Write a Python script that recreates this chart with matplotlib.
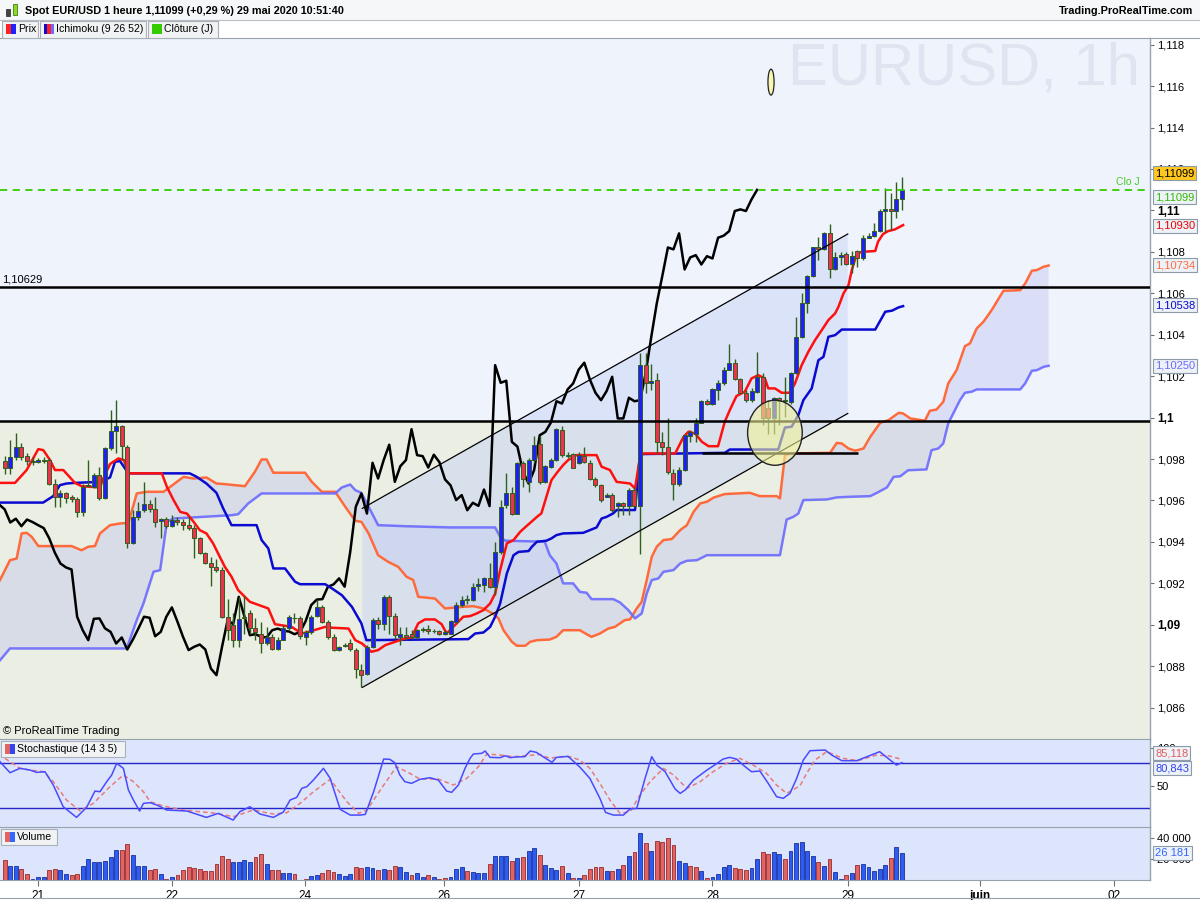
import numpy as np
import matplotlib
matplotlib.use("Agg")
import matplotlib.pyplot as plt
from matplotlib.patches import Rectangle, Ellipse, Polygon
from matplotlib.transforms import blended_transform_factory as btf

plt.rcParams['font.family'] = ['Liberation Sans', 'DejaVu Sans']

# ---------------- DATA ----------------
opens = [
1.09792,1.09759,1.09808,1.09856,1.09814,1.09787,1.09785,1.09793,1.09795,1.09682,
1.09615,1.09634,1.09615,1.09605,1.09545,1.09669,1.09666,1.09722,1.09610,1.09851,
1.09936,1.09959,1.09859,1.09393,1.09518,1.09553,1.09581,1.09558,1.09500,1.09512,
1.09476,1.09508,1.09494,1.09481,1.09465,1.09417,1.09348,1.09296,1.09277,1.09267,
1.09039,1.08998,1.08926,1.09039,1.09055,1.08983,1.08958,1.08910,1.08939,1.08881,
1.08929,1.08983,1.09031,1.09034,1.08939,1.08966,1.09042,1.09084,1.09015,1.08942,
1.08878,1.08897,1.08910,1.08878,1.08784,1.08762,1.08894,1.09023,1.09003,1.09135,
1.09042,1.08942,1.08949,1.08955,1.08939,1.08974,1.08982,1.08971,1.08968,1.08955,
1.08958,1.09015,1.09095,1.09119,1.09119,1.09188,1.09192,1.09224,1.09184,1.09352,
1.09578,1.09634,1.09537,1.09782,1.09690,1.09795,1.09872,1.09690,1.09763,1.09795,
1.09940,1.09819,1.09824,1.09779,1.09817,1.09782,1.09702,1.09673,1.09618,1.09626,
1.09573,1.09589,1.09573,1.09653,1.09573,1.10253,1.10165,1.10181,1.09883,1.09860,
1.09734,1.09682,1.09747,1.09912,1.09923,1.09976,1.10079,1.10068,1.10133,1.10165,
1.10232,1.10265,1.10184,1.10117,1.10084,1.10125,1.10197,1.10044,1.09996,1.10096,
1.10079,1.10076,1.10213,1.10387,1.10551,1.10684,1.10821,1.10812,1.10889,1.10715,
1.10773,1.10792,1.10739,1.10805,1.10768,1.10868,1.10878,1.10900,1.10997,1.11005,
1.10998,1.11053]
highs = [
1.09814,1.09891,1.09924,1.09879,1.09827,1.09811,1.09803,1.09811,1.09803,1.09706,
1.09650,1.09642,1.09626,1.09618,1.09682,1.09795,1.09734,1.09763,1.09859,1.10036,
1.10084,1.09964,1.09867,1.09553,1.09594,1.09690,1.09602,1.09615,1.09516,1.09521,
1.09529,1.09521,1.09513,1.09518,1.09481,1.09425,1.09352,1.09328,1.09320,1.09280,
1.09127,1.09055,1.09135,1.09138,1.09071,1.09031,1.09015,1.08990,1.08958,1.08942,
1.08999,1.09047,1.09055,1.09045,1.08974,1.09047,1.09119,1.09095,1.09023,1.08958,
1.08897,1.08910,1.08934,1.08886,1.08813,1.08902,1.09031,1.09039,1.09143,1.09143,
1.09055,1.08990,1.08990,1.08974,1.08982,1.08990,1.08999,1.08978,1.08974,1.08974,
1.09023,1.09111,1.09138,1.09142,1.09200,1.09224,1.09229,1.09296,1.09401,1.09602,
1.09731,1.09666,1.09787,1.09792,1.09803,1.09911,1.09911,1.09771,1.09803,1.09952,
1.09959,1.09835,1.09830,1.09835,1.09859,1.09795,1.09714,1.09679,1.09634,1.09634,
1.09594,1.09594,1.09658,1.09666,1.10310,1.10310,1.10261,1.10216,1.09930,1.10000,
1.09750,1.09760,1.09923,1.09939,1.09996,1.10084,1.10088,1.10141,1.10181,1.10245,
1.10355,1.10285,1.10189,1.10133,1.10141,1.10318,1.10213,1.10084,1.10100,1.10100,
1.10197,1.10221,1.10487,1.10599,1.10688,1.10824,1.10873,1.10897,1.10932,1.10800,
1.10800,1.10800,1.10805,1.10808,1.10881,1.10889,1.10937,1.11005,1.11106,1.11082,
1.11138,1.11162]
lows = [
1.09730,1.09730,1.09795,1.09795,1.09771,1.09771,1.09779,1.09779,1.09674,1.09570,
1.09570,1.09586,1.09594,1.09521,1.09525,1.09663,1.09658,1.09602,1.09605,1.09843,
1.09827,1.09795,1.09373,1.09389,1.09505,1.09545,1.09545,1.09473,1.09417,1.09465,
1.09470,1.09481,1.09460,1.09457,1.09324,1.09341,1.09293,1.09187,1.09256,1.09035,
1.08926,1.08894,1.08894,1.08958,1.08958,1.08926,1.08862,1.08902,1.08878,1.08878,
1.08926,1.08974,1.09007,1.08930,1.08902,1.08958,1.09039,1.09007,1.08934,1.08875,
1.08875,1.08891,1.08875,1.08741,1.08701,1.08757,1.08886,1.08982,1.08974,1.08958,
1.08934,1.08902,1.08926,1.08934,1.08934,1.08966,1.08958,1.08961,1.08950,1.08950,
1.08955,1.09007,1.09084,1.09100,1.09116,1.09164,1.09159,1.09180,1.09143,1.09344,
1.09566,1.09529,1.09534,1.09666,1.09642,1.09782,1.09682,1.09685,1.09759,1.09792,
1.09811,1.09803,1.09755,1.09776,1.09779,1.09698,1.09666,1.09594,1.09615,1.09545,
1.09521,1.09529,1.09529,1.09570,1.09341,1.10117,1.10133,1.09827,1.09820,1.09730,
1.09602,1.09670,1.09740,1.09883,1.09883,1.09972,1.10063,1.10060,1.10084,1.10157,
1.10229,1.10181,1.10117,1.10076,1.10076,1.10120,1.09964,1.09923,1.09923,1.09964,
1.10004,1.10068,1.10210,1.10382,1.10503,1.10680,1.10760,1.10808,1.10672,1.10712,
1.10736,1.10736,1.10696,1.10728,1.10760,1.10865,1.10873,1.10895,1.10897,1.10905,
1.10961,1.11001]
closes = [
1.09759,1.09808,1.09856,1.09811,1.09790,1.09793,1.09795,1.09796,1.09682,1.09615,
1.09634,1.09610,1.09608,1.09545,1.09666,1.09677,1.09721,1.09610,1.09851,1.09936,
1.09959,1.09862,1.09393,1.09518,1.09550,1.09581,1.09557,1.09494,1.09512,1.09476,
1.09508,1.09496,1.09481,1.09467,1.09417,1.09348,1.09296,1.09277,1.09267,1.09039,
1.08974,1.08926,1.09029,1.09031,1.08983,1.08966,1.08910,1.08939,1.08881,1.08929,
1.08983,1.09039,1.09034,1.08945,1.08966,1.09039,1.09084,1.09015,1.08942,1.08878,
1.08894,1.08905,1.08881,1.08789,1.08757,1.08894,1.09023,1.09003,1.09135,1.09042,
1.08950,1.08955,1.08942,1.08939,1.08974,1.08982,1.08971,1.08968,1.08955,1.08965,
1.09018,1.09095,1.09122,1.09124,1.09184,1.09195,1.09224,1.09184,1.09352,1.09570,
1.09634,1.09537,1.09782,1.09706,1.09795,1.09869,1.09690,1.09766,1.09795,1.09944,
1.09819,1.09814,1.09759,1.09821,1.09785,1.09702,1.09673,1.09602,1.09626,1.09553,
1.09589,1.09574,1.09653,1.09573,1.10253,1.10168,1.10178,1.09883,1.09860,1.09739,
1.09682,1.09747,1.09915,1.09931,1.09976,1.10079,1.10068,1.10136,1.10165,1.10232,
1.10265,1.10184,1.10120,1.10084,1.10128,1.10197,1.09996,1.09996,1.10096,1.10079,
1.10084,1.10213,1.10387,1.10551,1.10684,1.10821,1.10812,1.10889,1.10715,1.10773,
1.10784,1.10739,1.10779,1.10768,1.10868,1.10878,1.10900,1.10997,1.11005,1.10997,
1.11053,1.11099]

volumes = [
19000,13600,13300,10200,5400,600,2900,2900,9200,10500,
9200,5400,4800,5400,13300,20000,16800,17500,17800,21900,
28200,28200,34000,23500,13300,13300,9500,10200,5400,600,
2900,4800,9200,12400,11700,10200,8600,8900,15200,22500,
19700,16800,16800,18700,16800,21600,24400,15200,9200,9200,
6700,7000,5400,300,600,3800,4400,6300,9200,7900,
5400,3800,5400,12400,11700,12400,11400,9200,10200,9200,
13300,12700,7600,4800,6300,2900,4400,2500,1000,1600,
3200,10200,12100,8600,7600,6700,6700,14900,22500,22500,
22500,18100,20600,21600,27300,30100,23500,14000,11100,9200,
13000,6300,1600,2200,4800,10200,12700,12700,8300,8300,
10200,14000,22500,26300,44400,34900,27300,36800,35900,39700,
33000,17800,15900,13000,12100,8300,1600,2500,5400,12100,
14000,11100,10200,9200,11100,19700,26300,24400,26300,24400,
19700,27300,34900,35900,27600,22800,16800,13300,20000,7300,
600,4400,6700,14000,15200,12400,8600,10200,14000,20900,
31400,26181]
volume_up = [
0,1,1,0,0,1,1,1,0,0, 1,1,0,0,1,1,1,1,1,1, 1,0,0,1,1,1,0,0,1,0,
1,0,0,0,0,0,0,0,0,0, 0,1,1,1,1,0,0,1,0,0, 1,1,0,0,0,1,1,0,0,0,
1,1,1,0,0,1,1,0,1,0, 0,1,1,0,1,1,0,1,0,0, 1,1,1,0,1,1,1,0,1,1,
1,0,1,0,1,1,0,1,1,1, 0,1,0,1,0,0,0,0,1,0, 1,0,1,0,1,0,1,0,0,0,
0,1,1,0,0,1,0,1,1,1, 1,0,0,0,1,1,0,0,1,1, 0,1,1,1,1,1,0,1,0,1,
1,0,1,0,1,1,1,1,1,0, 1,1]

tenkan_idx = [-0.84,1.85,3.94,6.03,6.93,8.13,9.02,10.52,12.61,13.81,17.1,17.7,18.9,20.4,21.4,22.2,28.2,29.1,30.3,31.5,32.7,33.9,35.0,36.2,37.4,38.6,
 39.5,40.7,41.9,44.0,47.3,48.5,51.5,53.3,54.5,57.5,58.7,61.7,62.9,64.1,65.8,67.0,68.3,71.8,73.0,74.2,75.4,77.2,78.4,79.3,
 81.1,82.3,83.5,84.7,85.9,87.1,88.0,88.9,90.1,91.3,92.5,93.6,94.5,95.5,96.3,97.2,98.1,99.0,100.2,
 101.1,102.6,106.2,107.1,108.6,109.8,112.2,113.1,114.0,114.6,
 120.3,121.8,122.7,123.9,125.1,126.3,128.0,129.2,130.1,131.3,132.8,134.0,135.2,136.4,137.0,138.2,139.4,140.9,141.8,143.0,144.2,145.4,146.6,147.8,149.0,149.6,150.5,151.4,152.0,152.9,153.8,156.2,156.7,157.6,158.5,159.7,161.2]
tenkan_val = [1.09685,1.09685,1.09747,1.09848,1.09843,1.09795,1.09747,1.09747,1.09685,1.09669,1.09663,1.09706,1.09776,1.09803,1.09795,1.09731,1.09731,1.09666,1.09602,1.09545,1.09537,1.09497,1.09457,1.09441,1.09393,1.09328,
 1.09280,1.09232,1.09167,1.09111,1.09079,1.09003,1.08990,1.08958,1.08966,1.08990,1.08986,1.08982,1.08926,1.08910,1.08870,1.08878,1.08902,1.08934,1.08939,1.09007,1.09026,1.09026,1.09003,1.08958,
 1.09007,1.09039,1.09042,1.09055,1.09071,1.09103,1.09151,1.09264,1.09393,1.09409,1.09449,1.09476,1.09497,1.09521,1.09538,1.09618,1.09698,1.09731,1.09771,
 1.09795,1.09819,1.09819,1.09763,1.09747,1.09690,1.09682,1.09658,1.09811,1.09827,
 1.09827,1.09907,1.09932,1.09923,1.09883,1.09862,1.09862,1.09980,1.10036,1.10104,1.10125,1.10189,1.10205,1.10189,1.10141,1.10141,1.10120,1.10120,1.10165,1.10253,1.10318,1.10374,1.10422,1.10471,1.10503,1.10535,1.10599,1.10639,1.10712,1.10792,1.10800,1.10804,1.10849,1.10886,1.10900,1.10908,1.10929]

kijun_idx = [-0.84,6.9,8.7,9.9,11.1,12.6,17.1,18.9,19.8,20.7,22.2,33.2,34.4,36.2,38.0,39.2,
 40.7,45.2,46.1,47.3,48.2,50.3,52.1,53.0,57.5,58.7,60.5,62.3,64.0,64.9,
 83.2,84.4,85.9,87.1,88.0,88.9,90.1,91.3,92.2,94.0,94.6,95.5,97.2,98.1,99.0,100.2,103.8,105.0,106.2,107.1,108.0,109.2,109.8,113.1,
 114.0,129.2,130.1,138.8,140.0,141.2,142.4,143.3,144.8,146.0,146.9,147.8,149.0,150.2,156.2,158.0,159.2,160.4,161.2]
kijun_val = [1.09590,1.09590,1.09621,1.09674,1.09682,1.09685,1.09690,1.09711,1.09787,1.09790,1.09731,1.09731,1.09715,1.09682,1.09637,1.09562,
 1.09481,1.09481,1.09409,1.09369,1.09272,1.09272,1.09208,1.09196,1.09196,1.09176,1.09143,1.09087,1.09007,1.08926,
 1.08931,1.08958,1.08963,1.08990,1.09039,1.09103,1.09248,1.09336,1.09352,1.09356,1.09377,1.09401,1.09406,1.09417,1.09433,1.09441,1.09444,1.09457,1.09470,1.09513,1.09521,1.09538,1.09554,1.09554,
 1.09824,1.09830,1.09846,1.09846,1.09952,1.09956,1.10012,1.10084,1.10141,1.10277,1.10293,1.10390,1.10398,1.10425,1.10425,1.10511,1.10516,1.10532,1.10538]

senkou_a_idx = [-0.84,0.95,2.15,3.04,3.94,4.84,6.04,12.0,13.8,15.0,16.2,17.1,18.9,20.7,22.2,23.7,25.5,28.5,29.7,32.1,33.9,36.2,38.0,
 39.5,43.1,44.9,46.1,47.0,48.2,53.9,55.1,56.9,59.3,61.1,62.9,64.0,65.3,67.0,68.8,70.6,72.1,73.3,74.2,77.2,79.0,
 82.3,84.1,85.9,87.7,88.6,89.5,91.0,91.9,93.4,94.3,95.5,97.8,99.0,100.2,103.2,104.4,105.3,106.8,108.3,109.5,110.4,111.3,112.2,113.4,114.3,115.2,116.1,117.0,118.2,119.7,
 121.2,122.4,123.6,124.8,126.0,127.2,129.2,133.7,135.5,138.5,139.1,140.0,141.0,148.1,149.3,150.2,151.4,152.6,154.1,155.3,157.1,158.6,160.4,161.2,162.5,165.1,166.0,167.2,168.4,169.3,170.8,172.3,173.2,174.4,175.6,177.1,178.0,179.2,182.2,183.1,184.3,185.2,186.4,187.3]
senkou_a_val = [1.09216,1.09312,1.09320,1.09441,1.09444,1.09425,1.09380,1.09380,1.09360,1.09377,1.09380,1.09441,1.09481,1.09489,1.09492,1.09634,1.09642,1.09642,1.09666,1.09714,1.09706,1.09711,1.09682,
 1.09679,1.09669,1.09739,1.09798,1.09798,1.09734,1.09734,1.09690,1.09642,1.09642,1.09570,1.09502,1.09497,1.09441,1.09336,1.09304,1.09280,1.09232,1.09216,1.09135,1.09127,1.09079,
 1.09087,1.09090,1.09079,1.09052,1.09031,1.08974,1.08918,1.08899,1.08899,1.08918,1.08926,1.08929,1.08942,1.08974,1.08974,1.08955,1.08942,1.08958,1.08982,1.08990,1.09007,1.09023,1.09026,1.09079,1.09111,1.09216,1.09328,1.09377,1.09409,1.09414,
 1.09457,1.09481,1.09545,1.09586,1.09594,1.09614,1.09631,1.09637,1.09621,1.09621,1.09610,1.09819,1.09827,1.09830,1.09878,1.09875,1.09851,1.09840,1.09851,1.09907,1.09975,1.09988,1.10023,1.10020,1.09996,1.09985,1.10033,1.10039,1.10076,1.10165,1.10229,1.10345,1.10358,1.10430,1.10462,1.10519,1.10559,1.10612,1.10615,1.10647,1.10709,1.10712,1.10728,1.10734]

senkou_b_idx = [-0.84,0.95,21.9,23.7,24.9,26.7,27.9,29.1,30.3,
 40.7,41.9,43.7,46.1,59.3,60.5,62.0,62.9,64.0,65.3,67.0,71.8,
 79.9,88.0,88.9,89.8,96.9,97.8,99.0,100.2,102.0,103.2,104.4,105.3,109.2,110.4,111.9,113.1,114.3,115.2,116.1,117.3,118.2,120.0,
 121.2,122.4,124.2,126.0,139.1,140.3,141.5,142.4,143.3,147.5,149.3,151.7,155.3,156.5,158.3,159.5,160.7,162.1,165.4,166.3,167.5,168.4,169.3,170.2,171.4,172.3,173.5,174.4,182.2,183.1,184.3,185.2,186.4,187.3]
senkou_b_val = [1.08829,1.08886,1.08886,1.09023,1.09103,1.09256,1.09264,1.09497,1.09513,
 1.09529,1.09534,1.09586,1.09634,1.09634,1.09663,1.09677,1.09650,1.09637,1.09570,1.09481,1.09476,
 1.09470,1.09470,1.09425,1.09406,1.09401,1.09336,1.09296,1.09200,1.09200,1.09159,1.09155,1.09124,1.09124,1.09108,1.09071,1.09031,1.09055,1.09151,1.09216,1.09224,1.09256,1.09264,
 1.09296,1.09309,1.09312,1.09336,1.09336,1.09508,1.09521,1.09537,1.09602,1.09605,1.09615,1.09618,1.09621,1.09637,1.09663,1.09714,1.09717,1.09746,1.09750,1.09843,1.09851,1.09875,1.09972,1.10020,1.10084,1.10120,1.10125,1.10136,1.10136,1.10165,1.10226,1.10229,1.10245,1.10250]

stoch_k_idx = [-0.84,0.95,2.75,4.54,5.74,7.23,8.73,10.5,12.9,14.7,16.2,17.1,18.3,19.2,20.1,21.3,22.2,23.1,24.2,24.9,26.1,27.3,29.1,32.7,36.2,38.3,41.0,42.2,44.0,45.8,48.2,50.0,51.2,52.4,53.3,54.2,55.4,57.2,58.4,60.2,62.0,63.8,64.7,66.2,68.0,69.1,70.0,
 70.9,71.8,73.0,74.5,76.3,77.8,79.3,80.2,81.4,82.6,83.5,84.1,85.6,86.2,87.1,88.9,89.8,90.7,91.6,93.3,94.3,95.4,96.6,98.2,99.0,101.1,102.0,103.2,105.0,106.8,107.8,109.2,111.0,112.2,113.4,114.9,116.1,117.0,118.5,120.3,121.2,122.1,123.6,126.0,127.4,128.9,130.1,131.3,132.5,134.0,135.5,137.0,138.5,139.7,140.9,142.1,143.3,144.5,147.2,148.4,150.2,152.9,157.0,160.0,161.0]
stoch_k_val = [82.1,67.5,73.3,71.0,67.9,68.8,51.0,22.1,7.9,21.3,43.0,42.1,55.5,64.4,79.9,73.3,44.4,31.0,16.4,26.6,27.5,24.4,17.7,16.4,7.9,13.3,4.4,15.5,22.1,12.4,7.9,15.0,31.0,34.6,46.6,48.8,57.7,73.3,59.9,18.6,11.0,11.0,11.9,42.1,85.7,85.3,80.8,
 64.4,55.5,53.3,58.6,60.8,57.7,43.0,41.3,51.0,73.3,86.6,92.4,93.3,96.4,87.9,87.5,90.1,87.5,88.4,88.8,96.4,94.6,88.8,81.3,87.9,89.3,83.0,75.0,59.9,33.3,14.6,11.0,11.0,19.0,19.9,59.9,88.8,77.7,68.8,45.7,39.9,44.4,57.7,71.0,77.7,85.7,87.9,85.7,77.7,68.8,69.7,53.3,35.5,33.3,39.9,59.9,84.4,96.8,97.7,91.0,83.5,83.5,95.5,77.7,80.843]
stoch_d_idx = [0.05,2.75,4.54,6.93,8.73,11.1,13.5,15.9,18.9,21.3,23.1,24.9,26.1,28.5,32.1,35.0,38.0,41.0,44.6,48.2,50.6,53.0,55.4,58.4,61.4,63.5,65.0,67.4,70.3,
 72.7,74.5,77.8,80.5,82.9,85.0,86.5,88.9,91.3,93.7,96.0,97.8,99.6,101.4,103.2,105.0,106.8,108.6,110.4,112.2,114.0,115.8,118.2,120.0,122.4,124.8,127.1,129.5,131.9,134.3,136.7,138.5,140.3,142.7,143.9,145.4,147.5,150.4,153.1,156.4,158.8,161.0]
stoch_d_val = [86.6,73.3,71.0,68.8,55.5,31.0,16.8,26.6,48.8,64.4,55.5,42.1,28.8,23.0,17.7,15.5,13.3,8.8,17.7,12.4,14.1,26.6,42.1,58.6,28.8,13.3,17.7,44.4,75.5,
 66.6,59.0,59.0,51.0,59.9,75.5,92.4,91.0,88.8,90.1,91.9,86.6,88.8,88.8,84.4,73.3,53.3,31.0,13.3,15.5,37.7,55.5,73.3,64.4,46.6,55.5,68.8,79.9,86.6,77.7,66.6,51.0,39.9,50.0,66.6,84.4,95.5,86.6,83.5,91.0,89.7,85.118]

channel_idx = [64.17, 151.27]
channel_low = [1.08698, 1.10020]
channel_high = [1.09562, 1.10886]

level_hi = 1.10629
level_mid = 1.09985
level_short = 1.09830
level_short_idx = [125.1, 153.1]
close_daily = 1.11099

date_pos = [6.0, 30.0, 53.9, 78.9, 103.0, 127.0, 151.3, 175.0, 199.1]
date_labels = ['21', '22', '24', '26', '27', '28', '29', 'juin', '02']

price_ticks = [1.086, 1.088, 1.09, 1.092, 1.094, 1.096, 1.098, 1.1, 1.102, 1.104,
               1.106, 1.108, 1.11, 1.112, 1.114, 1.116, 1.118]

# ---------------- FIGURE ----------------
W, H = 1200, 900
fig = plt.figure(figsize=(12, 9), dpi=100, facecolor='white')

def rect(x0, y0, x1, y1):
    return [x0 / W, 1 - y1 / H, (x1 - x0) / W, (y1 - y0) / H]

ax = fig.add_axes(rect(0, 38, 1150, 739))
axs = fig.add_axes(rect(0, 739, 1150, 827))
axv = fig.add_axes(rect(0, 827, 1150, 880))

XMIN, XMAX = -0.84, 205.5
YMIN, YMAX = 1.08449, 1.11832
for a in (ax, axs, axv):
    a.set_xlim(XMIN, XMAX)
    for s in ('left', 'top', 'bottom'):
        a.spines[s].set_visible(False)
    a.spines['right'].set_color('#98a2ac')
    a.spines['right'].set_linewidth(1.0)
    a.yaxis.tick_right()
    a.tick_params(axis='y', direction='out', length=3, width=0.8, colors='#707070',
                  labelcolor='black', labelsize=8, pad=2)
    a.set_xticks([])

ax.set_ylim(YMIN, YMAX)

# backgrounds
ax.axhspan(level_mid, YMAX, color='#eff3fc', zorder=0)
ax.axhspan(YMIN, level_mid, color='#ebefe3', zorder=0)

# watermark
ax.text(1140 / 1150, 0.934, 'EURUSD, 1h', transform=ax.transAxes, ha='right', va='baseline',
        fontsize=43, color='#e0e4f1', zorder=0.5)

n = len(closes)
idx = np.arange(n)
o = np.array(opens); c = np.array(closes); h = np.array(highs); l = np.array(lows)

# cloud
cloud_x = list(senkou_a_idx) + list(senkou_b_idx[::-1])
cloud_y = list(senkou_a_val) + list(senkou_b_val[::-1])
ax.add_patch(Polygon(np.column_stack([cloud_x, cloud_y]), closed=True,
                     facecolor='#b9bff0', alpha=0.38, edgecolor='none', zorder=1))

# channel
chan_poly = [(channel_idx[0], channel_low[0]), (channel_idx[1], channel_low[1]),
             (channel_idx[1], channel_high[1]), (channel_idx[0], channel_high[0])]
ax.add_patch(Polygon(chan_poly, closed=True, facecolor='#c3d1f6', alpha=0.45,
                     edgecolor='none', zorder=1.2))

ax.plot(senkou_a_idx, senkou_a_val, color='#ff6a3d', lw=1.8, zorder=2)
ax.plot(senkou_b_idx, senkou_b_val, color='#6b6bff', lw=1.8, alpha=0.9, zorder=2)

# chikou: closes shifted 26 bars back
ch_x = idx - 26
m = ch_x >= -1
ax.plot(ch_x[m], c[m], color='black', lw=1.8, zorder=3)

ax.plot(kijun_idx, kijun_val, color='#0a0ad0', lw=1.8, zorder=3.2)
ax.plot(tenkan_idx, tenkan_val, color='#ff1010', lw=1.8, zorder=3.3)

# candles
up = c >= o
wick_col = '#2f5f1f'
ax.vlines(idx, l, h, color=wick_col, lw=1.0, zorder=4)
body_bot = np.minimum(o, c)
body_h = np.maximum(np.abs(c - o), 0.00003)
ax.bar(idx[up], body_h[up], bottom=body_bot[up], width=0.72, color='#1e1eff',
       edgecolor=wick_col, linewidth=0.7, zorder=4.5)
ax.bar(idx[~up], body_h[~up], bottom=body_bot[~up], width=0.72, color='#f0304f',
       edgecolor=wick_col, linewidth=0.7, zorder=4.5)

# channel lines
ax.plot(channel_idx, channel_low, color='black', lw=0.9, zorder=5)
ax.plot(channel_idx, channel_high, color='black', lw=0.9, zorder=5)

# horizontal levels
ax.axhline(level_hi, color='black', lw=1.8, zorder=6)
ax.axhline(level_mid, color='black', lw=1.8, zorder=6)
ax.hlines(level_short, level_short_idx[0], level_short_idx[1], color='black', lw=1.8, zorder=6)
ax.axhline(close_daily, color='#33cc00', lw=1.3, dashes=(4, 3), zorder=6)

# ellipses
ax.add_patch(Ellipse((138.2, 1.09927), 9.8, 0.00314, facecolor='#f2f29a', alpha=0.6,
                     edgecolor='none', zorder=6.5))
ax.add_patch(Ellipse((138.2, 1.09927), 9.8, 0.00314, facecolor='none',
                     edgecolor='#222222', lw=1.0, zorder=6.6))
ax.add_patch(Ellipse((137.5, 1.11619), 1.1, 0.00125, facecolor='#f6f6b4',
                     edgecolor='#222222', lw=0.9, zorder=6.6))

# texts in main panel
trm = btf(ax.transAxes, ax.transData)
ax.text(0.002, level_hi + 0.00012, '1,10629', transform=trm, fontsize=8, va='bottom',
        ha='left', zorder=7)
ax.text(1140 / 1150, close_daily + 0.00012, 'Clo J', transform=trm,
        fontsize=7.5, color='#44cc22', ha='right', va='bottom', zorder=7)
ax.text(0.003, 0.004, '\u00a9 ProRealTime Trading', transform=ax.transAxes, fontsize=8,
        ha='left', va='bottom', zorder=7)

def fmt_price(v):
    s = ('%.3f' % v).rstrip('0').rstrip('.')
    return s.replace('.', ',')

ax.set_yticks(price_ticks)
ax.set_yticklabels([fmt_price(v) for v in price_ticks])
for t, v in zip(ax.get_yticklabels(), price_ticks):
    if len(fmt_price(v)) <= 4:
        t.set_fontweight('bold')
        t.set_fontsize(8.5)

# right-side value boxes
boxes = [
    (1.11180, '1,11099', 'black', '#ffc81e'),
    (1.11064, '1,11099', '#33bb00', '#edf1f8'),
    (1.10927, '1,10930', '#ee0000', '#edf1f8'),
    (1.10736, '1,10734', '#ff6a3d', '#edf1f8'),
    (1.10542, '1,10538', '#0a0ad0', '#edf1f8'),
    (1.10250, '1,10250', '#6b6bff', '#edf1f8'),
]
for y, s, col, fc in boxes:
    ax.text(1.0045, y, s, transform=trm, fontsize=8, color=col, ha='left', va='center',
            zorder=10, clip_on=False,
            bbox=dict(boxstyle='square,pad=0.18', fc=fc, ec='#8d9aa8', lw=0.8))

# ---------------- STOCHASTIC ----------------
axs.set_facecolor('#dce5fb')
axs.set_ylim(-4.9, 112.4)
axs.axhline(80, color='#2424c8', lw=1.0)
axs.axhline(20, color='#2424c8', lw=1.0)
axs.plot(stoch_d_idx, stoch_d_val, color='#e87a7a', lw=1.1, dashes=(3, 2))
axs.plot(stoch_k_idx, stoch_k_val, color='#4a4aff', lw=1.1)
axs.set_yticks([50, 100])
axs.set_yticklabels(['50', '100'])
axs.spines['top'].set_visible(True)
axs.spines['top'].set_color('#98a2ac')
trs = btf(axs.transAxes, axs.transData)
axs.text(1.0045, 93.5, '85,118', transform=trs, fontsize=8, color='#e06060', va='center',
         zorder=10, clip_on=False, bbox=dict(boxstyle='square,pad=0.18', fc='#edf1f8', ec='#8d9aa8', lw=0.8))
axs.text(1.0045, 73.5, '80,843', transform=trs, fontsize=8, color='#3344ee', va='center',
         zorder=10, clip_on=False, bbox=dict(boxstyle='square,pad=0.18', fc='#edf1f8', ec='#8d9aa8', lw=0.8))

# ---------------- VOLUME ----------------
axv.set_facecolor('#dce5fb')
axv.set_ylim(0, 50500)
vol = np.array(volumes)
vup = np.array(volume_up) == 1
axv.bar(idx[vup], vol[vup], width=0.7, color='#2d5cf0', edgecolor='#1a2fa0', linewidth=0.6)
axv.bar(idx[~vup], vol[~vup], width=0.7, color='#e06464', edgecolor='#9a2a2a', linewidth=0.6)
axv.set_yticks([20000, 40000])
axv.set_yticklabels(['20 000', '40 000'])
axv.spines['top'].set_visible(True)
axv.spines['top'].set_color('#98a2ac')
axv.spines['bottom'].set_visible(True)
axv.spines['bottom'].set_color('#98a2ac')
trv = btf(axv.transAxes, axv.transData)
axv.text(1.0045, 25400, '26 181', transform=trv, fontsize=8, color='#3366ff', va='center',
         zorder=10, clip_on=False, bbox=dict(boxstyle='square,pad=0.18', fc='#edf1f8', ec='#8d9aa8', lw=0.8))

axv.set_xticks(date_pos)
axv.set_xticklabels(date_labels)
axv.tick_params(axis='x', direction='out', length=4, width=0.8, colors='#707070',
                labelcolor='black', labelsize=8.5, pad=3)
for t, s in zip(axv.get_xticklabels(), date_labels):
    if s == 'juin':
        t.set_fontweight('bold')

# ---------------- HEADER / LEGENDS ----------------
fig.patches.append(Rectangle((0, 1 - 20 / H), 1, 20 / H, transform=fig.transFigure,
                             fc='#f6f7f8', ec='none', zorder=0))
fig.lines.append(plt.Line2D([0, 1], [1 - 20 / H, 1 - 20 / H], transform=fig.transFigure,
                            color='#b8bec4', lw=0.8))
fig.lines.append(plt.Line2D([0, 1], [1 - 38 / H, 1 - 38 / H], transform=fig.transFigure,
                            color='#98a2ac', lw=0.8))
fig.lines.append(plt.Line2D([0, 1], [1 - 898 / H, 1 - 898 / H], transform=fig.transFigure,
                            color='#98a2ac', lw=0.8))
# header icon
fig.patches.append(Rectangle((6 / W, 1 - 16 / H), 4 / W, 7 / H, transform=fig.transFigure,
                             fc='#444444', ec='#222222', lw=0.5))
fig.patches.append(Rectangle((13 / W, 1 - 15 / H), 4 / W, 11 / H, transform=fig.transFigure,
                             fc='#88dd22', ec='#336600', lw=0.5))
fig.text(25 / W, 1 - 11 / H, 'Spot EUR/USD 1 heure 1,11099 (+0,29 %) 29 mai 2020 10:51:40',
         fontsize=7.8, fontweight='bold', va='center', ha='left')
fig.text(1193 / W, 1 - 11 / H, 'Trading.ProRealTime.com', fontsize=7.8, fontweight='bold',
         va='center', ha='right')

def legend_box(x0, x1, y0, y1, text, icon_cols):
    fig.patches.append(Rectangle((x0 / W, 1 - y1 / H), (x1 - x0) / W, (y1 - y0) / H,
                                 transform=fig.transFigure, fc='#f1f2f3', ec='#a8b0b8', lw=0.8, zorder=5))
    k = len(icon_cols)
    iw = 10 / k
    for j, col in enumerate(icon_cols):
        fig.patches.append(Rectangle(((x0 + 4 + j * iw) / W, 1 - (y0 + 13) / H), iw / W, 10 / H,
                                     transform=fig.transFigure, fc=col, ec='none', zorder=6))
    fig.text((x0 + 16) / W, 1 - (y0 + y1) / 2 / H, text, fontsize=7.6, va='center', ha='left', zorder=7)

legend_box(2, 38, 21, 38, 'Prix', ['#ff2020', '#2020ff'])
legend_box(40, 146, 21, 38, 'Ichimoku (9 26 52)', ['#0a0ad0', '#ff2020', '#6b6bff'])
legend_box(148, 218, 21, 38, 'Cl\u00f4ture (J)', ['#33cc00'])
legend_box(1, 125, 741, 757, 'Stochastique (14 3 5)', ['#e06464', '#3344ee'])
legend_box(1, 57, 829, 845, 'Volume', ['#e06464', '#3366ff'])

fig.savefig('out.png', dpi=100, facecolor='white')
